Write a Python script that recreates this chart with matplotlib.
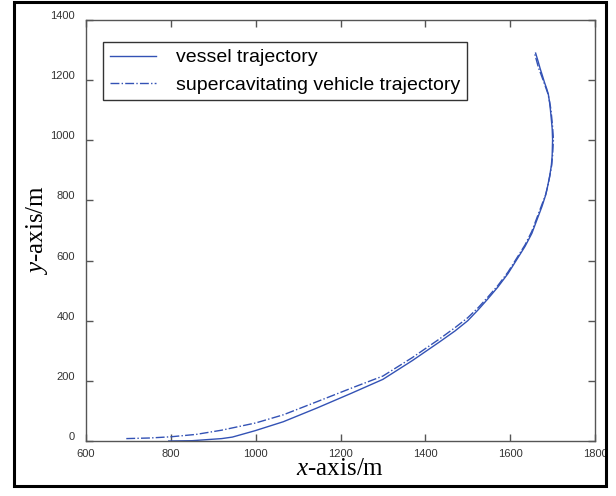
import numpy as np
import matplotlib
matplotlib.use("Agg")
from matplotlib import pyplot as plt
from matplotlib.patches import Rectangle
from matplotlib.transforms import ScaledTranslation

# vessel track (solid)
vessel_x = [795, 850, 920, 945, 998, 1065, 1145, 1226, 1300, 1370, 1434,
            1470, 1500, 1525, 1547, 1571, 1595, 1615, 1635, 1651, 1663,
            1675, 1683, 1688, 1693, 1697, 1699, 1700, 1699, 1697, 1695,
            1693, 1690, 1686, 1681, 1676, 1671, 1666, 1660]
vessel_y = [0, 1, 8, 13, 34, 64, 110, 159, 205, 268, 330,
            366, 400, 437, 472, 512, 557, 602, 647, 690, 735,
            780, 815, 845, 880, 915, 948, 1003, 1040, 1070, 1100,
            1125, 1153, 1172, 1192, 1215, 1237, 1262, 1290]

# supercavitating vehicle track (dash-dot)
vehicle_x = [695, 750, 800, 860, 920, 1000, 1065, 1145, 1226, 1300, 1370,
             1434, 1470, 1500, 1525, 1547, 1571, 1595, 1615, 1635, 1651,
             1663, 1675, 1684, 1689, 1694, 1698, 1700, 1702, 1700, 1698,
             1696, 1693, 1689, 1684, 1679, 1673, 1667, 1658]
vehicle_y = [8, 10, 14, 22, 36, 60, 87, 131, 176, 216, 278,
             340, 377, 410, 444, 478, 517, 562, 607, 652, 697,
             742, 787, 820, 850, 885, 918, 950, 1003, 1045, 1075,
             1103, 1128, 1155, 1175, 1195, 1218, 1240, 1287]

x_ticks = [600, 800, 1000, 1200, 1400, 1600, 1800]
y_ticks = [0, 200, 400, 600, 800, 1000, 1200, 1400]

plt.rcParams['mathtext.fontset'] = 'custom'
plt.rcParams['mathtext.rm'] = 'Liberation Serif'
plt.rcParams['mathtext.it'] = 'Liberation Serif:italic'

line_col = '#3352b5'

fig = plt.figure(figsize=(6.16, 4.96), dpi=100)
ax = fig.add_axes([86 / 616, 55 / 496, 509 / 616, 421 / 496])

ax.plot(vessel_x, vessel_y, '-', color=line_col, lw=1.0,
        label='vessel trajectory')
ax.plot(vehicle_x, vehicle_y, '-.', color=line_col, lw=1.0,
        label='supercavitating vehicle trajectory')

ax.set_xlim(600, 1800)
ax.set_ylim(0, 1400)
ax.set_xticks(x_ticks)
ax.set_yticks(y_ticks)
ax.tick_params(direction='in', top=True, right=True, length=5,
               width=1, color='#555555', labelsize=8, labelcolor='#333333')
ax.tick_params(axis='x', pad=6)
ax.tick_params(axis='y', pad=8)
for lab in ax.get_xticklabels() + ax.get_yticklabels():
    lab.set_fontfamily('Liberation Sans')
# y labels sit a little above their ticks
shift = ScaledTranslation(0, 5 / 100, fig.dpi_scale_trans)
for lab in ax.get_yticklabels():
    lab.set_transform(lab.get_transform() + shift)
for sp in ax.spines.values():
    sp.set_color('#555555')
    sp.set_linewidth(1)

ax.set_xlabel(r'$\it{x}$-axis/m', fontsize=18, family='Liberation Serif',
              labelpad=-1)
ax.set_ylabel(r'$\it{y}$-axis/m', fontsize=18, family='Liberation Serif',
              labelpad=0)

leg = ax.legend(loc='upper left', bbox_to_anchor=(0.033, 0.948),
                prop={'family': 'Liberation Sans', 'size': 14},
                fancybox=False, framealpha=1, edgecolor='#333333',
                handlelength=2.4, handletextpad=1.0, borderpad=0.35,
                labelspacing=0.5, borderaxespad=0)
leg.get_frame().set_linewidth(1)

# black frame round the whole figure
fig.patches.append(Rectangle((14 / 616, 10 / 496), 592 / 616, 484 / 496,
                             transform=fig.transFigure, fill=False,
                             edgecolor='black', lw=2.2))

fig.savefig('out.png', dpi=100)
